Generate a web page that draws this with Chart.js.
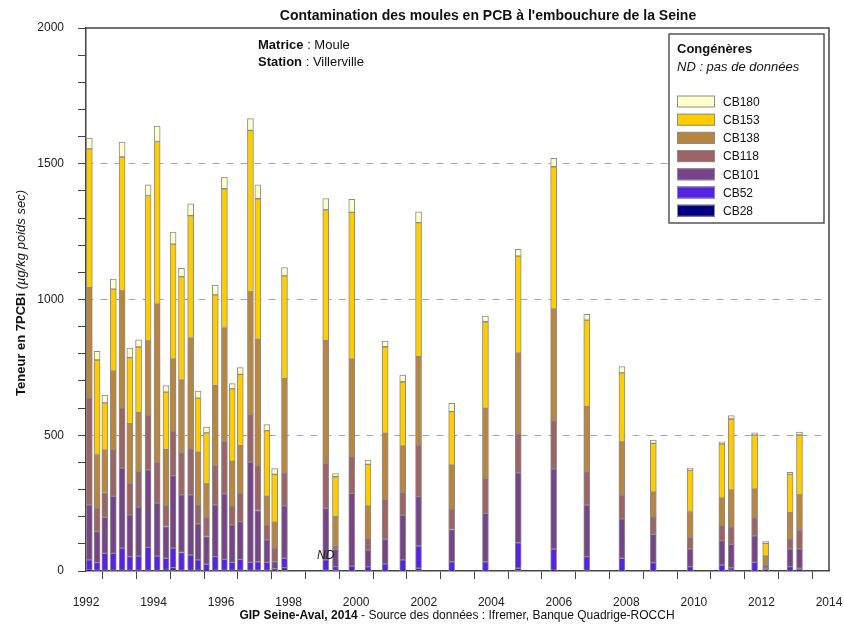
<!DOCTYPE html>
<html lang="fr">
<head>
<meta charset="UTF-8">
<title>Contamination des moules en PCB</title>
<script src="https://cdn.jsdelivr.net/npm/chart.js"></script>
<style>
  body { margin: 0; background: #fff; }
  canvas { display: block; }
</style>
</head>
<body>
<canvas id="pcbChart" width="844" height="626"></canvas>
<script>
  // sampling dates (Villerville station)
  const sampleDates = [
    '1992-02-06','1992-04-30','1992-07-23','1992-10-23',
    '1993-01-26','1993-04-20','1993-07-23','1993-11-03',
    '1994-02-09','1994-05-15','1994-07-31','1994-10-30',
    '1995-02-06','1995-04-27','1995-07-27','1995-10-30',
    '1996-02-06','1996-04-30','1996-07-27','1996-11-14',
    '1997-02-02','1997-05-11','1997-08-03','1997-11-17',
    '1999-02-06','1999-05-22','1999-11-14',
    '2000-05-08','2000-11-10',
    '2001-05-19','2001-11-06',
    '2002-10-30','2003-10-30','2004-10-19','2005-11-06','2006-10-30',
    '2007-11-14','2008-10-19','2009-11-21','2010-10-30',
    '2011-02-09','2011-10-19','2012-02-16','2012-11-06','2013-02-16'
  ];

  // µg/kg poids sec, one value per sample
  const cb28 = [3,2,2,2, 2,2,2,2, 2,6,12,2, 2,2,1,2, 2,2,2,2, 2,2,1,12,
    2,0,1, 1,1, 1,10, 1,1,10,3,2, 1,1,1,1, 2,1,1,1,3];
  const cb52 = [38,29,63,63, 82,51,53,85, 53,41,72,66, 57,39,24,51, 41,30,41,30, 32,30,8,35,
    39,16,17, 15,25, 40,82, 33,33,94,78,51, 46,30,15,21, 10,31,2,15,7];
  const cb101 = [203,114,133,210, 295,154,180,286, 195,117,267,213, 222,133,102,191, 241,138,139,369, 189,83,25,193,
    190,64,268, 61,91, 165,182, 119,178,258,295,190, 145,104,66,90, 86,98,7,66,72];
  const cb118 = [394,87,91,172, 222,117,132,200, 151,77,164,154, 170,70,71,144, 194,70,105,175, 165,55,50,121,
    166,10,135, 43,147, 84,190, 75,129,143,178,123, 88,65,42,56, 65,66,12,37,69];
  const cb138 = [406,197,156,289, 431,219,216,274, 582,206,265,268, 407,193,123,295, 419,164,175,452, 465,105,95,347,
    451,110,359, 119,243, 170,325, 162,258,297,410,239, 195,90,95,100, 135,105,33,96,129];
  const cb153 = [511,348,174,302, 493,243,242,536, 599,212,424,381, 451,200,188,334, 511,267,262,595, 518,242,177,379,
    482,147,541, 154,319, 237,494, 197,319,358,525,319, 255,180,153,200, 262,200,47,142,221];
  const cb180 = [40,32,29,37, 55,35,26,39, 57,24,44,31, 43,26,21,36, 43,19,25,43, 51,22,21,31,
    42,12,48, 16,21, 25,40, 31,21,25,31,21, 23,12,6,8, 12,8,6,6,11];

  const congeners = ['CB28', 'CB52', 'CB101', 'CB118', 'CB138', 'CB153', 'CB180'];
  const seriesValues = [cb28, cb52, cb101, cb118, cb138, cb153, cb180];
  const congenerColors = ['#000080', '#5522e6', '#774489', '#9c6464', '#b8863f', '#ffcc00', '#ffffcc'];

  const noDataDates = ['1999-02-06'];

  const xMin = 1992, xMax = 2014;
  const yMin = 0, yMax = 2000;

  const FONT = '"Liberation Sans", Arial, sans-serif';

  function toYear(s) {
    const [y, m, d] = s.split('-').map(Number);
    const start = Date.UTC(y, 0, 1);
    const end = Date.UTC(y + 1, 0, 1);
    return y + (Date.UTC(y, m - 1, d) - start) / (end - start);
  }

  const xs = sampleDates.map(toYear);

  const datasets = congeners.map((name, i) => ({
    label: name,
    data: seriesValues[i].map((v, j) => ({ x: xs[j], y: v })),
    backgroundColor: congenerColors[i],
    borderColor: '#8c8c8c',
    borderWidth: 1,
    borderSkipped: false,
    barThickness: 6
  }));

  function mixedText(ctx, parts, x, y, align) {
    let total = 0;
    parts.forEach(p => { ctx.font = p.font; total += ctx.measureText(p.text).width; });
    let cx = align === 'center' ? x - total / 2 : x;
    ctx.textAlign = 'left';
    parts.forEach(p => {
      ctx.font = p.font;
      ctx.fillText(p.text, cx, y);
      cx += ctx.measureText(p.text).width;
    });
  }

  const decorPlugin = {
    id: 'decor',
    afterDraw(chart) {
      const ctx = chart.ctx;
      const a = chart.chartArea;
      const xScale = chart.scales.x;
      ctx.save();

      // frame top/right
      ctx.strokeStyle = '#444';
      ctx.lineWidth = 1.5;
      ctx.beginPath();
      ctx.moveTo(a.left, a.top);
      ctx.lineTo(a.right, a.top);
      ctx.lineTo(a.right, a.bottom);
      ctx.stroke();

      ctx.fillStyle = '#111';
      ctx.textBaseline = 'middle';

      ctx.font = 'bold 14px ' + FONT;
      ctx.textAlign = 'center';
      ctx.fillText("Contamination des moules en PCB à l'embouchure de la Seine", 488, 16);

      mixedText(ctx, [{ text: 'Matrice', font: 'bold 13px ' + FONT }, { text: ' : Moule', font: '13px ' + FONT }], 258, 45, 'left');
      mixedText(ctx, [{ text: 'Station', font: 'bold 13px ' + FONT }, { text: ' : Villerville', font: '13px ' + FONT }], 258, 62, 'left');

      ctx.save();
      ctx.translate(21, 293);
      ctx.rotate(-Math.PI / 2);
      mixedText(ctx, [{ text: 'Teneur en 7PCBi ', font: 'bold 13px ' + FONT }, { text: '(µg/kg poids sec)', font: 'italic 13px ' + FONT }], 0, 0, 'center');
      ctx.restore();

      mixedText(ctx, [{ text: 'GIP Seine-Aval, 2014', font: 'bold 12px ' + FONT },
        { text: ' - Source des données : Ifremer, Banque Quadrige-ROCCH', font: '12px ' + FONT }], 457, 616, 'center');

      ctx.font = 'italic 12px ' + FONT;
      ctx.fillStyle = '#222';
      ctx.textAlign = 'center';
      noDataDates.forEach(d => {
        ctx.fillText('ND', xScale.getPixelForValue(toYear(d)), a.bottom - 15);
      });

      // legend box
      const lx = 669, ly = 34, lw = 155, lh = 189;
      ctx.fillStyle = '#fff';
      ctx.fillRect(lx, ly, lw, lh);
      ctx.strokeStyle = '#555';
      ctx.lineWidth = 1.5;
      ctx.strokeRect(lx, ly, lw, lh);
      ctx.fillStyle = '#111';
      ctx.textAlign = 'left';
      ctx.font = 'bold 13px ' + FONT;
      ctx.fillText('Congénères', 677, 49);
      ctx.font = 'italic 13px ' + FONT;
      ctx.fillText('ND : pas de données', 677, 67);
      ctx.font = '12px ' + FONT;
      for (let k = 0; k < congeners.length; k++) {
        const idx = congeners.length - 1 - k;
        const cy = 101.5 + k * 18.2;
        ctx.fillStyle = congenerColors[idx];
        ctx.fillRect(677, cy - 6, 38, 12);
        ctx.strokeStyle = '#8c8c8c';
        ctx.lineWidth = 1;
        ctx.strokeRect(677.5, cy - 5.5, 37, 11);
        ctx.fillStyle = '#111';
        ctx.fillText(congeners[idx], 723, cy + 1);
      }
      ctx.restore();
    }
  };

  new Chart(document.getElementById('pcbChart'), {
    type: 'bar',
    data: { datasets },
    options: {
      responsive: false,
      animation: false,
      layout: { padding: { left: 0, right: 15, top: 28, bottom: 0 } },
      plugins: { legend: { display: false }, tooltip: { enabled: false } },
      scales: {
        x: {
          type: 'linear',
          stacked: true,
          min: xMin,
          max: xMax,
          offset: false,
          afterFit: s => { s.height = 55; s.paddingLeft = 0; s.paddingRight = 0; },
          ticks: {
            stepSize: 1,
            autoSkip: false,
            maxRotation: 0,
            padding: 16,
            color: '#222',
            font: { size: 12, family: FONT },
            callback: v => (v % 2 === 0 ? String(v) : '')
          },
          grid: { drawOnChartArea: false, tickLength: 8, tickColor: '#444', lineWidth: 1 },
          border: { color: '#444', width: 1.5 }
        },
        y: {
          stacked: true,
          min: yMin,
          max: yMax,
          afterFit: s => { s.width = 86; s.paddingTop = 0; s.paddingBottom = 0; },
          ticks: {
            stepSize: 100,
            autoSkip: false,
            padding: 14,
            color: '#222',
            font: { size: 12, family: FONT },
            callback: v => (v % 500 === 0 ? String(v) : '')
          },
          grid: {
            color: c => (c.tick && c.tick.value % 500 === 0 && c.tick.value > yMin && c.tick.value < yMax) ? '#a6a6a6' : 'rgba(0,0,0,0)',
            tickColor: '#444',
            tickLength: 8,
            lineWidth: 1
          },
          border: { color: '#444', width: 1.5, dash: [7, 7] }
        }
      }
    },
    plugins: [decorPlugin]
  });
</script>
</body>
</html>
